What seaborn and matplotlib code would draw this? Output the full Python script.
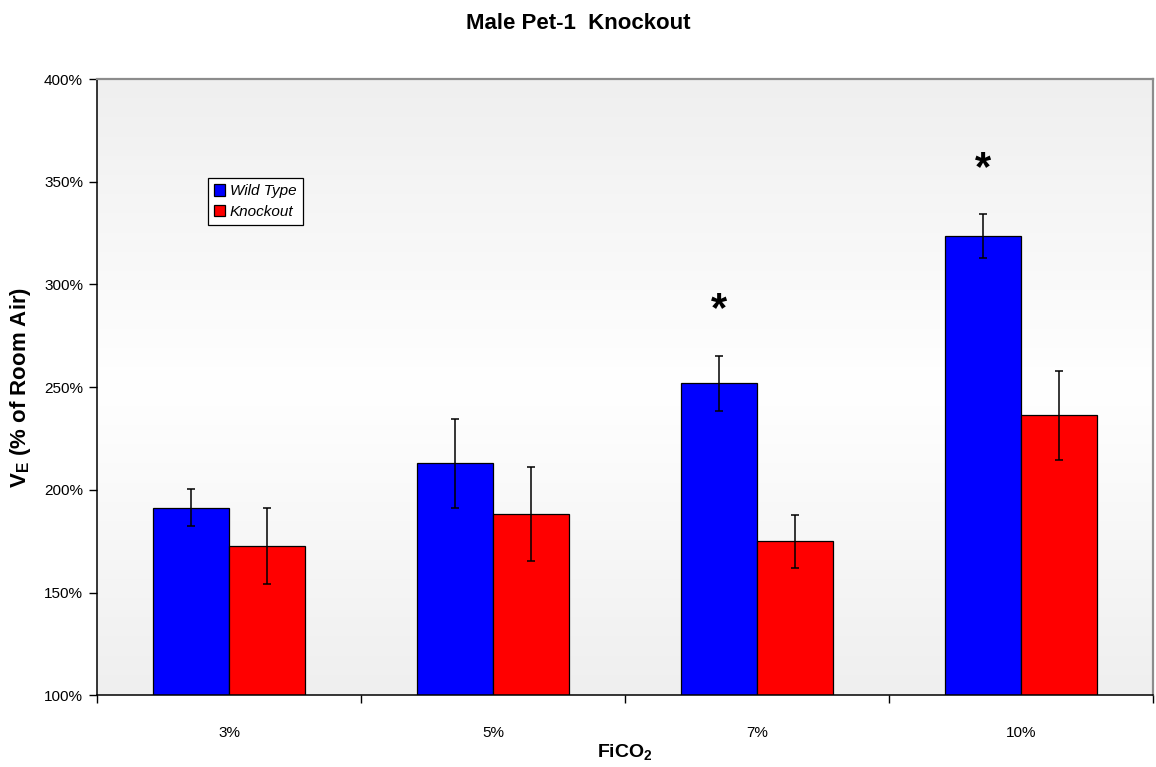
import numpy as np
import pandas as pd
import matplotlib
matplotlib.use("Agg")
import matplotlib.pyplot as plt
from matplotlib.colors import LinearSegmentedColormap
from matplotlib.ticker import FuncFormatter, FixedLocator
import seaborn as sns

# Ventilation response to inspired CO2, as % of room-air baseline
categories = ["3%", "5%", "7%", "10%"]
wild_type = [191.2, 212.9, 251.9, 323.6]
wild_type_err = [9.0, 21.7, 13.4, 10.5]
knockout = [172.7, 188.3, 175.0, 236.3]
knockout_err = [18.3, 23.0, 12.8, 21.7]
significant = [False, False, True, True]
groups = ["Wild Type", "Knockout"]
y_ticks = [100, 150, 200, 250, 300, 350, 400]

df = pd.DataFrame({
    "FiCO2": categories * 2,
    "value": wild_type + knockout,
    "err": wild_type_err + knockout_err,
    "group": [groups[0]] * len(categories) + [groups[1]] * len(categories),
})

sns.set_theme(style="white")
plt.rcParams["font.family"] = ["Liberation Sans", "DejaVu Sans"]
plt.rcParams["mathtext.fontset"] = "custom"
plt.rcParams["mathtext.bf"] = "Liberation Sans:bold"
plt.rcParams["mathtext.rm"] = "Liberation Sans"
plt.rcParams["text.color"] = "black"
plt.rcParams["axes.labelcolor"] = "black"

fig = plt.figure(figsize=(11.56, 7.67), dpi=100)
ax = fig.add_axes([0.0839, 0.0935, 0.9135, 0.8035])

# soft grey-white-grey backdrop inside the plot area
grad = np.abs(np.linspace(-1, 1, 256))[:, None]
cmap = LinearSegmentedColormap.from_list("bg", ["#ffffff", "#efefef"])
ax.imshow(grad, cmap=cmap, aspect="auto", extent=[0, 1, 0, 1],
          transform=ax.transAxes, zorder=0, vmin=0, vmax=1)

sns.barplot(data=df, x="FiCO2", y="value", hue="group", hue_order=groups,
            palette={"Wild Type": "#0000ff", "Knockout": "#ff0000"},
            saturation=1, width=0.573, gap=0, edgecolor="black",
            linewidth=0.9, errorbar=None, ax=ax, zorder=2)

errs = [wild_type_err, knockout_err]
vals = [wild_type, knockout]
for container, v, e in zip(ax.containers, vals, errs):
    xs = [p.get_x() + p.get_width() / 2 for p in container.patches]
    ax.errorbar(xs, v, yerr=e, fmt="none", ecolor="black", elinewidth=1.1,
                capsize=3.0, capthick=1.1, zorder=3)

# significance markers above the wild-type error bars
wt_x = [p.get_x() + p.get_width() / 2 for p in ax.containers[0].patches]
for x, v, e, sig in zip(wt_x, wild_type, wild_type_err, significant):
    if sig:
        ax.text(x, v + e + 22, "*", ha="center", va="center",
                fontsize=30, fontweight="bold", color="black", zorder=4)

ax.set_xlim(-0.5, len(categories) - 0.5)
ax.set_ylim(100, 400)
ax.yaxis.set_major_locator(FixedLocator(y_ticks))
ax.yaxis.set_major_formatter(FuncFormatter(lambda v, _: f"{v:.0f}%"))

# category labels centred, tick marks between groups
ax.set_xticks(range(len(categories)))
ax.set_xticklabels(categories)
ax.set_xticks(np.arange(-0.5, len(categories)), minor=True)
ax.tick_params(axis="x", which="major", length=0, pad=22, labelsize=11,
               labelcolor="black")
ax.tick_params(axis="x", which="minor", length=6, width=1, color="black",
               direction="out", bottom=True)
ax.tick_params(axis="y", which="major", length=6, width=1, color="black",
               direction="out", left=True, labelsize=11, labelcolor="black",
               pad=4)

for side in ["left", "bottom"]:
    ax.spines[side].set_color("black")
    ax.spines[side].set_linewidth(1.1)
for side in ["top", "right"]:
    ax.spines[side].set_color("#8c8c8c")
    ax.spines[side].set_linewidth(1.6)

ax.set_xlabel(r"FiCO$_\mathbf{2}$", fontsize=14, fontweight="bold", labelpad=2)
ax.set_ylabel(r"V$_\mathbf{E}$ (% of Room Air)", fontsize=16,
              fontweight="bold", labelpad=8)

fig.suptitle("Male Pet-1  Knockout", x=0.5, y=0.983, fontsize=16,
             fontweight="bold")

handles, labels = ax.get_legend_handles_labels()
leg = ax.legend(handles, labels, loc="upper left",
                bbox_to_anchor=(0.105, 0.839), frameon=True, fancybox=False,
                edgecolor="black", facecolor="white", framealpha=1,
                prop={"style": "italic", "size": 11}, handlelength=0.75,
                handleheight=0.75, handletextpad=0.3, borderpad=0.4,
                labelspacing=0.45, borderaxespad=0)
leg.get_frame().set_linewidth(0.9)

fig.savefig("out.png", dpi=100)
